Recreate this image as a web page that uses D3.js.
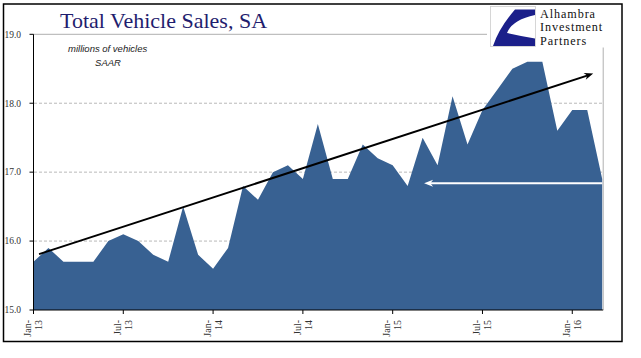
<!DOCTYPE html>
<html>
<head>
<meta charset="utf-8">
<script src="https://cdn.jsdelivr.net/npm/d3@7"></script>
<style>
  html, body { margin: 0; padding: 0; background: #fff; }
  svg { display: block; }
</style>
</head>
<body>
<svg id="chart" width="641" height="358"></svg>
<script>
// ---- data ----
const months = ["Jan-13","Feb-13","Mar-13","Apr-13","May-13","Jun-13","Jul-13","Aug-13","Sep-13","Oct-13","Nov-13","Dec-13",
  "Jan-14","Feb-14","Mar-14","Apr-14","May-14","Jun-14","Jul-14","Aug-14","Sep-14","Oct-14","Nov-14","Dec-14",
  "Jan-15","Feb-15","Mar-15","Apr-15","May-15","Jun-15","Jul-15","Aug-15","Sep-15","Oct-15","Nov-15","Dec-15",
  "Jan-16","Feb-16","Mar-16"];
const sales = [15.7,15.9,15.7,15.7,15.7,16.0,16.1,16.0,15.8,15.7,16.5,15.8,
  15.6,15.9,16.8,16.6,17.0,17.1,16.9,17.7,16.9,16.9,17.4,17.2,
  17.1,16.8,17.5,17.1,18.1,17.4,17.9,18.2,18.5,18.6,18.6,17.6,
  17.9,17.9,16.9];
const yTicks = [15, 16, 17, 18, 19];
const xTickMonths = ["Jan-13","Jul-13","Jan-14","Jul-14","Jan-15","Jul-15","Jan-16"];
// trend annotation (month index, value)
const trendStart = [0.37, 15.81];
const trendEnd = [37.4, 18.43];
// white "back to" arrow (month index, value)
const backStart = [38, 16.84];
const backEnd = [26.1, 16.84];

const title = "Total Vehicle Sales, SA";
const subtitle = ["millions of vehicles", "SAAR"];
const logoText = ["Alhambra", "Investment", "Partners"];

// ---- layout ----
const svg = d3.select("#chart");
const x = d3.scaleLinear().domain([0, months.length - 1]).range([33.5, 602.2]);
const y = d3.scaleLinear().domain([15, 19]).range([310, 34.3]);

// outer frame
svg.append("rect").attr("x", 3.5).attr("y", 4).attr("width", 618.5).attr("height", 337.5)
  .attr("fill", "#fff").attr("stroke", "#000").attr("stroke-width", 1.5);

// gridlines
svg.append("g").selectAll("line").data(yTicks.filter(d => d > 15 && d < 19)).join("line")
  .attr("x1", 34).attr("x2", 602.5).attr("y1", d => y(d)).attr("y2", d => y(d))
  .attr("stroke", "#a6a6a6").attr("stroke-width", 0.8).attr("stroke-dasharray", "3,2");

// plot border (top & right)
svg.append("path")
  .attr("d", `M${x(0)},${y(19)}H${x(38) + 1}V${y(15)}`)
  .attr("fill", "none").attr("stroke", "#b0b0b0").attr("stroke-width", 1);

// area
const area = d3.area().x((d, i) => x(i)).y0(y(15)).y1(d => y(d)).curve(d3.curveLinear);
svg.append("path").datum(sales).attr("d", area).attr("fill", "#386192");

// axes
const yAxis = svg.append("g");
yAxis.append("line").attr("x1", x(0)).attr("x2", x(0)).attr("y1", y(19)).attr("y2", y(15))
  .attr("stroke", "#000").attr("stroke-width", 1);
yAxis.selectAll("line.tk").data(yTicks).join("line").attr("class", "tk")
  .attr("x1", x(0) - 4).attr("x2", x(0)).attr("y1", d => y(d)).attr("y2", d => y(d))
  .attr("stroke", "#000").attr("stroke-width", 1);
yAxis.selectAll("text").data(yTicks).join("text")
  .attr("x", 21).attr("y", d => y(d) + 3.3)
  .attr("text-anchor", "end").attr("font-family", "Liberation Serif, Times New Roman, serif")
  .attr("font-size", 9.5).attr("fill", "#333")
  .text(d => d3.format(".1f")(d));

const xAxis = svg.append("g");
xAxis.append("line").attr("x1", x(0)).attr("x2", x(38) + 1).attr("y1", y(15)).attr("y2", y(15))
  .attr("stroke", "#000").attr("stroke-width", 1);
const xt = xAxis.selectAll("g.xt").data(xTickMonths).join("g").attr("class", "xt");
xt.append("line")
  .attr("x1", d => x(months.indexOf(d))).attr("x2", d => x(months.indexOf(d)))
  .attr("y1", y(15)).attr("y2", y(15) + 4).attr("stroke", "#000").attr("stroke-width", 1);
const lab = xt.append("text")
  .attr("transform", d => `translate(${x(months.indexOf(d))},320) rotate(-90)`)
  .attr("text-anchor", "end").attr("font-family", "Liberation Serif, Times New Roman, serif")
  .attr("font-size", 10).attr("fill", "#333");
lab.append("tspan").attr("x", 0).attr("y", -2.2).text(d => d.split("-")[0] + "-");
lab.append("tspan").attr("x", 0).attr("y", 8.8).text(d => d.split("-")[1]);

// trend arrow (black)
function arrowHead(g, tip, from, color, len, half) {
  const ang = Math.atan2(tip[1] - from[1], tip[0] - from[0]);
  const c = Math.cos(ang), s = Math.sin(ang);
  const bx = tip[0] - len * c, by = tip[1] - len * s;
  const nx = tip[0] - len * 0.7 * c, ny = tip[1] - len * 0.7 * s;
  const p = [[tip[0], tip[1]], [bx - half * s, by + half * c], [nx, ny], [bx + half * s, by - half * c]];
  g.append("path").attr("d", "M" + p.map(q => q.join(",")).join("L") + "Z").attr("fill", color);
}
const ts = [x(trendStart[0]), y(trendStart[1])];
const te = [x(trendEnd[0]), y(trendEnd[1])];
const ann = svg.append("g");
const tAng = Math.atan2(te[1] - ts[1], te[0] - ts[0]);
ann.append("line").attr("x1", ts[0]).attr("y1", ts[1])
  .attr("x2", te[0] - 4 * Math.cos(tAng)).attr("y2", te[1] - 4 * Math.sin(tAng))
  .attr("stroke", "#000").attr("stroke-width", 2);
arrowHead(ann, te, ts, "#000", 9, 3.5);

const bs = [x(backStart[0]), y(backStart[1])];
const be = [x(backEnd[0]), y(backEnd[1])];
ann.append("line").attr("x1", bs[0]).attr("y1", bs[1]).attr("x2", be[0] + 4).attr("y2", be[1])
  .attr("stroke", "#fff").attr("stroke-width", 2);
arrowHead(ann, be, bs, "#fff", 9, 3.5);

// title
svg.append("text").attr("x", 60).attr("y", 28.3)
  .attr("font-family", "Liberation Serif, Times New Roman, serif").attr("font-size", 22)
  .attr("fill", "#1f1d6e").text(title);

// subtitle
svg.append("text").attr("x", 68).attr("y", 51.5)
  .attr("font-family", "Liberation Sans, Arial, sans-serif").attr("font-style", "italic")
  .attr("font-size", 9.5).attr("fill", "#222").text(subtitle[0]);
svg.append("text").attr("x", 108).attr("y", 66).attr("text-anchor", "middle")
  .attr("font-family", "Liberation Sans, Arial, sans-serif").attr("font-style", "italic")
  .attr("font-size", 9.5).attr("fill", "#222").text(subtitle[1]);

// logo
const logo = svg.append("g");
logo.append("rect").attr("x", 487).attr("y", 5).attr("width", 120).attr("height", 42.5).attr("fill", "#fff");
logo.append("rect").attr("x", 490.5).attr("y", 6.5).attr("width", 45).attr("height", 40)
  .attr("fill", "#fff").attr("stroke", "#ccc").attr("stroke-width", 0.8);
logo.append("path")
  .attr("d", "M515,9.5 L535,9.5 L535,15 Q512,20 507,33 Q520,36 535,38.5 L535,46 L493,46 Q499,28 515,9.5 Z")
  .attr("fill", "#1b1f8a");
logo.selectAll("text").data(logoText).join("text")
  .attr("x", 540).attr("y", (d, i) => 17.5 + i * 13.6)
  .attr("font-family", "Liberation Serif, Times New Roman, serif").attr("font-size", 12.2)
  .attr("letter-spacing", 0.9).attr("fill", "#111").text(d => d);
</script>
</body>
</html>
